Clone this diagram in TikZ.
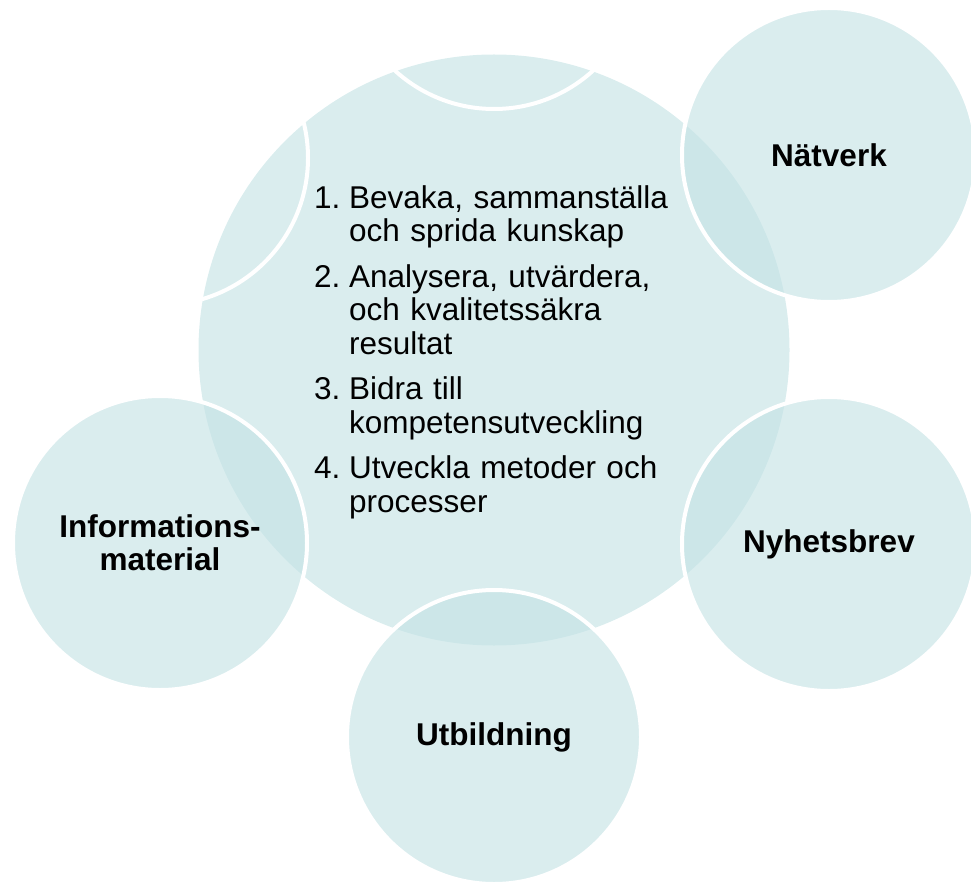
\documentclass[tikz,border=0pt]{standalone}
\usepackage{fontspec}
\setmainfont{Liberation Sans}
\usetikzlibrary{positioning}

\definecolor{vennfill}{RGB}{195,226,228}
\tikzset{
  core/.style={circle,fill=vennfill,fill opacity=0.62,minimum size=591pt,inner sep=0pt},
  bubble/.style={circle,fill=vennfill,fill opacity=0.62,text opacity=1,draw=white,
    line width=4pt,minimum size=294pt,inner sep=0pt,align=center,
    font=\fontsize{31.5}{33.3}\selectfont\bfseries},
  ghost/.style={circle,draw=white,line width=4pt,minimum size=294pt,inner sep=0pt},
  tasks/.style={text width=372pt,inner sep=0pt,anchor=base west,
    font=\fontsize{31.5}{33.3}\selectfont}
}
\newcommand{\taskitem}[2]{\par\hangindent=35pt\hangafter=1\noindent\makebox[35pt][l]{#1}#2}

\begin{document}
\begin{tikzpicture}[x=1pt,y=-1pt]
  \useasboundingbox (0,0) rectangle (971,882);
  % Place nodes
  \node [core] (centre) at (494,350) {};
  \node [ghost] (gtop) at (494,-38) {};
  \node [ghost] (gleft) at (161,158) {};
  \node [bubble] (natverk) at (829,155) {N\"atverk};
  \node [bubble] (nyhetsbrev) at (829,544) {Nyhetsbrev};
  \node [bubble] (utbildning) at (494,737) {Utbildning};
  \node [bubble] (infomat) at (160,543) {Informations-\\material};
  \node [tasks] (list) at (314,163) {\raggedright\setlength{\parskip}{12.4pt}%
    \taskitem{1.}{Bevaka, sammanst\"alla\newline och sprida kunskap}
    \taskitem{2.}{Analysera, utv\"ardera,\newline och kvalitetss\"akra\newline resultat}
    \taskitem{3.}{Bidra till\newline kompetensutveckling}
    \taskitem{4.}{Utveckla metoder och\newline processer}\par};
\end{tikzpicture}
\end{document}
